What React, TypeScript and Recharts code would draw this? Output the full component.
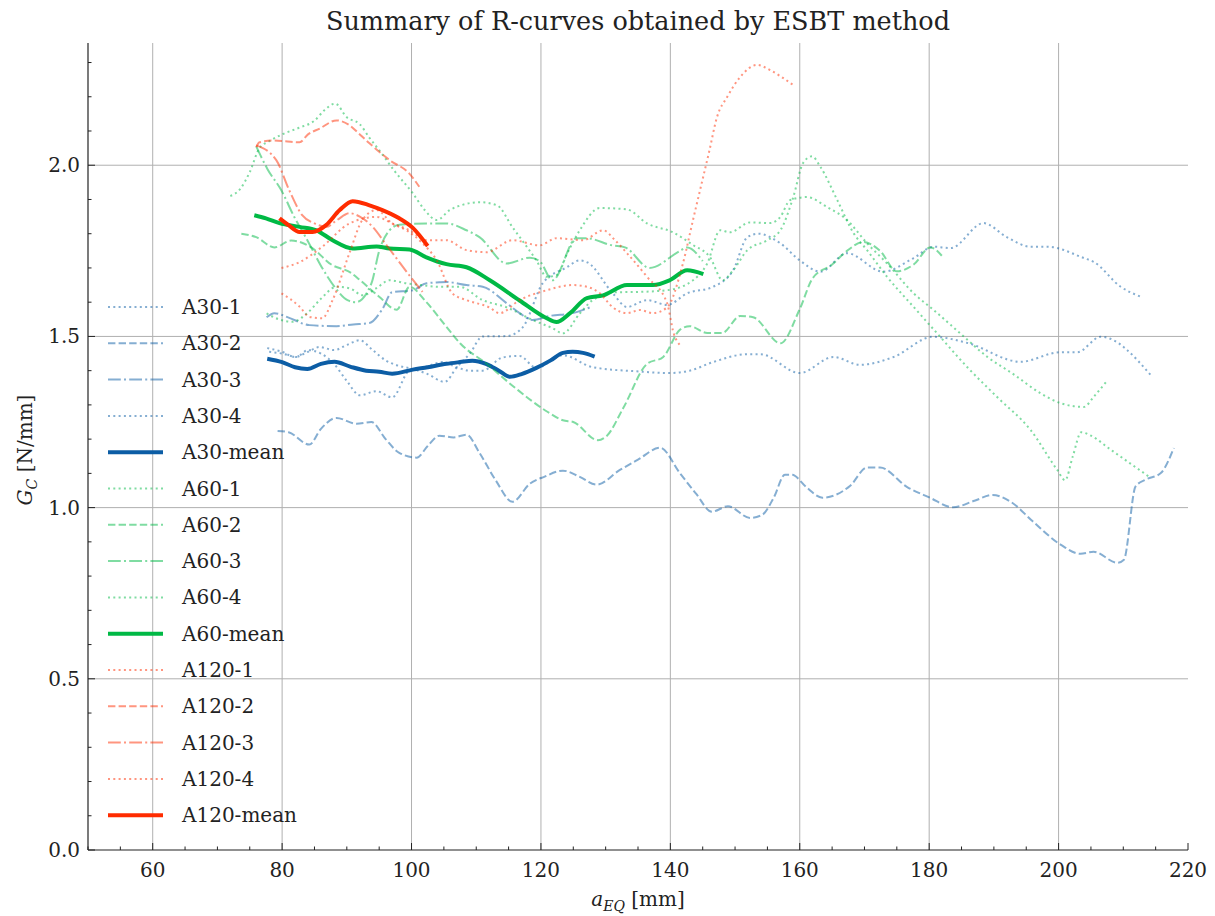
import React from 'react';
import { LineChart, Line, XAxis, YAxis, ReferenceLine, Legend } from 'recharts';

type Pt = [number, number];

// ---- data (x = a_EQ [mm], y = G_C [N/mm]) ----
const A30_1: Pt[] = [[77.7,1.466],[80,1.455],[82,1.44],[84,1.455],[85.8,1.469],[88,1.46],[90,1.475],[92,1.489],[94,1.46],[96,1.43],[97.7,1.416],[100.2,1.405],[102.5,1.39],[105.1,1.367],[107,1.41],[109,1.45],[111,1.5],[114.7,1.501],[117.2,1.527],[120.3,1.656],[124,1.702],[126,1.722],[127.2,1.716],[131.1,1.626],[133.3,1.586],[136.4,1.606],[139.5,1.592],[142.6,1.626],[146.6,1.645],[149.7,1.693],[151.9,1.79],[153.6,1.8],[157,1.772],[160,1.722],[163.2,1.689],[167.3,1.743],[172.9,1.689],[177.6,1.729],[180.7,1.762],[183.3,1.758],[188.4,1.831],[192,1.79],[195.7,1.762],[198.3,1.762],[203.9,1.729],[205.4,1.718],[209.6,1.645],[212.7,1.616]];
const A30_2: Pt[] = [[79.3,1.224],[81,1.22],[84.2,1.184],[86,1.23],[88.4,1.262],[91.5,1.245],[93.8,1.25],[96,1.2],[98.1,1.16],[100.8,1.146],[102.5,1.18],[104.3,1.21],[106.5,1.205],[108.5,1.213],[110.5,1.16],[113,1.08],[115.6,1.017],[118.3,1.07],[120.5,1.09],[123.4,1.108],[126,1.09],[128.6,1.067],[132.2,1.11],[135,1.14],[138.4,1.175],[141.5,1.1],[144,1.04],[146.4,0.988],[148.9,1.004],[152.3,0.97],[154.2,0.979],[156,1.03],[157.7,1.096],[158.8,1.096],[161,1.06],[163.5,1.029],[167.8,1.064],[170.4,1.117],[172.4,1.117],[176.6,1.06],[180,1.03],[183.7,1.001],[187,1.02],[189.8,1.037],[192.6,1.017],[196,0.96],[200.3,0.892],[203.4,0.865],[205.4,0.871],[209.1,0.839],[210.1,0.848],[211.9,1.062],[213.5,1.082],[215.8,1.101],[217.8,1.174]];
const A30_3: Pt[] = [[77.6,1.556],[78.8,1.568],[81,1.555],[84.2,1.533],[88.4,1.53],[91,1.535],[93.5,1.539],[95.5,1.58],[97,1.629],[100.2,1.635],[102.3,1.655],[104.3,1.658],[105.4,1.659],[108.5,1.65],[111,1.645],[114.7,1.597],[116.7,1.568],[118.7,1.548],[121.4,1.56],[124.9,1.568],[127.6,1.585]];
const A30_4: Pt[] = [[78,1.455],[80,1.45],[82.2,1.44],[84,1.46],[86,1.45],[88,1.42],[90,1.37],[92,1.328],[94.6,1.34],[97,1.322],[99.7,1.401],[102,1.41],[104.8,1.425],[107,1.41],[109,1.4],[111,1.4],[114.1,1.439],[116.7,1.443],[119.3,1.408],[123.4,1.445],[128,1.41],[134.8,1.398],[139.9,1.393],[143,1.4],[146.6,1.425],[151.9,1.448],[153.9,1.448],[160,1.393],[165.2,1.44],[169.3,1.417],[174.5,1.44],[180.6,1.499],[185.9,1.481],[194.1,1.426],[200.3,1.454],[202.9,1.454],[206.5,1.499],[214.2,1.388]];
const A30_MEAN: Pt[] = [[77.7,1.435],[80,1.425],[82,1.41],[83.9,1.405],[86,1.42],[88.1,1.426],[90.5,1.412],[93,1.4],[95,1.397],[97,1.391],[100.2,1.403],[102.5,1.41],[105.4,1.42],[107.5,1.425],[109.4,1.429],[111.5,1.42],[113.5,1.4],[115.2,1.382],[117,1.39],[119.3,1.408],[121.5,1.43],[123.4,1.452],[124.9,1.455],[126.5,1.452],[128.3,1.441]];

const A60_1: Pt[] = [[72,1.91],[73.5,1.93],[75,1.98],[76.5,2.05],[78,2.07],[80,2.09],[82.7,2.11],[85,2.13],[86.5,2.16],[88.2,2.18],[90,2.14],[92,2.12],[93.5,2.08],[95,2.044],[97.5,1.98],[100.2,1.918],[102,1.87],[103.9,1.84],[105.9,1.869],[108,1.885],[110.5,1.892],[113.2,1.883],[115.6,1.819],[117.5,1.77],[119.3,1.722],[120.9,1.674],[122.5,1.68],[124,1.74],[126,1.81],[129.1,1.875],[133.3,1.871],[136.4,1.83],[140.4,1.804],[143.5,1.767],[146.1,1.732],[148.1,1.664],[149.7,1.693],[151.9,1.752],[155,1.781],[157,1.81],[159,1.907],[160.5,2.006],[161.9,2.026],[163.2,1.995],[165.8,1.898],[168.3,1.802],[170.4,1.752],[173.5,1.674],[177.6,1.586],[181.7,1.499],[185.9,1.41],[190.5,1.323],[195.7,1.226],[199.8,1.11],[201,1.08],[202.2,1.15],[203.5,1.22],[205,1.21],[208,1.17],[211,1.13],[214,1.09]];
const A60_2: Pt[] = [[73.7,1.8],[76,1.79],[78.8,1.76],[81.4,1.78],[84.5,1.76],[87.6,1.71],[90.7,1.685],[92,1.665],[95,1.616],[97.7,1.578],[99.7,1.645],[102.3,1.6],[105.4,1.528],[107.5,1.48],[111.6,1.42],[116,1.35],[121,1.28],[123.4,1.255],[125,1.25],[128.8,1.197],[130.2,1.21],[132.7,1.29],[136.4,1.42],[138.9,1.44],[141.5,1.52],[143,1.53],[145.7,1.51],[148,1.51],[150.8,1.56],[152.8,1.556],[157,1.48],[160,1.58],[162,1.67],[165,1.71],[167.3,1.75],[169.8,1.776],[172.4,1.75],[175,1.69],[177.6,1.71],[180.2,1.76],[182.2,1.73]];
const A60_3: Pt[] = [[76,2.055],[77.7,1.99],[79.9,1.926],[81.9,1.848],[83.9,1.781],[86.1,1.703],[88.1,1.645],[90.1,1.606],[91.4,1.6],[93.8,1.655],[95,1.75],[96.6,1.81],[98.1,1.826],[102.3,1.83],[105.4,1.83],[108.5,1.81],[110.5,1.79],[114.7,1.713],[118.3,1.73],[119.8,1.72],[121.8,1.664],[125.5,1.787],[127,1.787],[131,1.766],[133,1.76],[136.8,1.7],[141.5,1.75],[142.6,1.76],[145,1.72]];
const A60_4: Pt[] = [[77.6,1.567],[79.5,1.55],[81.6,1.543],[84,1.57],[86,1.61],[88.4,1.645],[90.5,1.64],[92.5,1.62],[94.5,1.64],[96.6,1.664],[99.2,1.655],[101.5,1.65],[104.3,1.645],[107.4,1.645],[111,1.606],[114.7,1.585],[118.7,1.548],[121.8,1.524],[123.4,1.509],[126,1.567],[128,1.606],[131.7,1.629],[135,1.63],[139.5,1.635],[143.5,1.664],[145.7,1.713],[147.7,1.81],[149.2,1.804],[152.3,1.833],[155.4,1.831],[157,1.849],[158.5,1.898],[161.1,1.907],[164.2,1.878],[167.3,1.84],[170.4,1.772],[173.5,1.713],[177.6,1.626],[180.7,1.577],[184.8,1.509],[189,1.44],[193,1.39],[197.2,1.334],[200.3,1.305],[203.9,1.294],[205.4,1.323],[207.3,1.366]];
const A60_MEAN: Pt[] = [[75.7,1.854],[77.5,1.845],[79.6,1.831],[82.7,1.82],[85.3,1.81],[87.8,1.781],[90.9,1.757],[94.6,1.763],[96.6,1.757],[99.7,1.754],[102.3,1.731],[105.4,1.711],[108.5,1.702],[112.1,1.664],[116.7,1.605],[120.9,1.553],[122.4,1.542],[124.5,1.568],[127.1,1.612],[129.6,1.62],[133.3,1.65],[137.3,1.65],[139.9,1.664],[142.6,1.693],[145.1,1.682]];

const A120_1: Pt[] = [[79.9,1.7],[82.7,1.717],[86.2,1.762],[90.4,1.83],[94.6,1.849],[97,1.83],[99.7,1.81],[102.3,1.781],[105.4,1.781],[108.5,1.752],[111.6,1.746],[115.6,1.781],[119.8,1.766],[122.4,1.787],[126.5,1.781],[129.6,1.81],[131.5,1.78],[133.3,1.743],[136.4,1.674],[139.5,1.597],[140.5,1.51],[141.5,1.474]];
const A120_2: Pt[] = [[76,2.053],[76.5,2.067],[78.5,2.072],[80.5,2.07],[82.7,2.067],[84,2.09],[85.8,2.107],[88.4,2.131],[90.4,2.117],[92,2.09],[93.5,2.064],[96.6,2.015],[99.7,1.975],[101.2,1.937]];
const A120_3: Pt[] = [[76,2.058],[79.1,2.015],[81.1,1.927],[83.1,1.854],[85,1.83],[86.8,1.82],[88.5,1.84],[90.4,1.86],[92,1.85],[94,1.82],[96,1.77],[98,1.72],[100,1.67],[101.7,1.63]];
const A120_4: Pt[] = [[79.9,1.626],[82.7,1.587],[84.2,1.557],[86.2,1.553],[87.8,1.606],[90.4,1.743],[92.4,1.84],[94.6,1.869],[97,1.83],[99.2,1.81],[101.7,1.772],[103.9,1.722],[106.3,1.626],[108.5,1.606],[112,1.585],[113.6,1.568],[116.7,1.606],[120.9,1.635],[124.9,1.65],[127.1,1.645],[129.1,1.626],[131.1,1.585],[133.3,1.568],[135.3,1.577],[137.3,1.568],[139.5,1.585],[141.9,1.71],[143.5,1.84],[145,1.96],[146,2.04],[147.2,2.14],[148.8,2.2],[150.8,2.258],[153.4,2.293],[155.4,2.278],[157,2.26],[159,2.234]];
const A120_MEAN: Pt[] = [[79.6,1.845],[81,1.825],[82.7,1.805],[84.7,1.805],[86.8,1.825],[88.9,1.869],[90.9,1.895],[93.5,1.883],[95.5,1.869],[98.1,1.845],[100.2,1.817],[102.5,1.764]];

const X_MAJOR = [60, 80, 100, 120, 140, 160, 180, 200, 220];
const X_TICKS = [50, 55, 60, 65, 70, 75, 80, 85, 90, 95, 100, 105, 110, 115, 120, 125, 130, 135, 140, 145, 150, 155, 160, 165, 170, 175, 180, 185, 190, 195, 200, 205, 210, 215, 220];
const Y_MAJOR = [0, 0.5, 1, 1.5, 2];
const Y_LABELS = ['0.0', '0.5', '1.0', '1.5', '2.0'];
const Y_TICKS = [0, 0.1, 0.2, 0.3, 0.4, 0.5, 0.6, 0.7, 0.8, 0.9, 1, 1.1, 1.2, 1.3, 1.4, 1.5, 1.6, 1.7, 1.8, 1.9, 2, 2.1, 2.2, 2.3];
const X_DOMAIN: [number, number] = [50, 220];
const Y_DOMAIN: [number, number] = [0, 2.357];

const BLUE = '#0C5DA5';
const GREEN = '#00B945';
const RED = '#FF2C00';
const FONT = '"DejaVu Serif", serif';
const INK = '#222';

const DOT = '2 3.3';
const DASH = '7.4 3.2';
const DASHDOT = '12.8 3.2 2 3.2';

type S = { name: string; pts: Pt[]; color: string; dash?: string; width: number; opacity: number };
const SERIES: S[] = [
  { name: 'A30-1', pts: A30_1, color: BLUE, dash: DOT, width: 2, opacity: 0.5 },
  { name: 'A30-2', pts: A30_2, color: BLUE, dash: DASH, width: 2, opacity: 0.5 },
  { name: 'A30-3', pts: A30_3, color: BLUE, dash: DASHDOT, width: 2, opacity: 0.5 },
  { name: 'A30-4', pts: A30_4, color: BLUE, dash: DOT, width: 2, opacity: 0.5 },
  { name: 'A30-mean', pts: A30_MEAN, color: BLUE, width: 4, opacity: 1 },
  { name: 'A60-1', pts: A60_1, color: GREEN, dash: DOT, width: 2, opacity: 0.5 },
  { name: 'A60-2', pts: A60_2, color: GREEN, dash: DASH, width: 2, opacity: 0.5 },
  { name: 'A60-3', pts: A60_3, color: GREEN, dash: DASHDOT, width: 2, opacity: 0.5 },
  { name: 'A60-4', pts: A60_4, color: GREEN, dash: DOT, width: 2, opacity: 0.5 },
  { name: 'A60-mean', pts: A60_MEAN, color: GREEN, width: 4, opacity: 1 },
  { name: 'A120-1', pts: A120_1, color: RED, dash: DOT, width: 2, opacity: 0.5 },
  { name: 'A120-2', pts: A120_2, color: RED, dash: DASH, width: 2, opacity: 0.5 },
  { name: 'A120-3', pts: A120_3, color: RED, dash: DASHDOT, width: 2, opacity: 0.5 },
  { name: 'A120-4', pts: A120_4, color: RED, dash: DOT, width: 2, opacity: 0.5 },
  { name: 'A120-mean', pts: A120_MEAN, color: RED, width: 4, opacity: 1 },
];

const W = 1199;
const H = 908;

const isMajorX = (v: number) => X_MAJOR.indexOf(v) >= 0;
const majorYIndex = (v: number) => Y_MAJOR.findIndex((m) => Math.abs(m - v) < 1e-9);

const BottomTick = (p: any) => {
  const { x, y, payload } = p;
  const v = payload.value;
  const major = isMajorX(v);
  return (
    <g>
      <line x1={x} x2={x} y1={y} y2={y - (major ? 7 : 3.5)} stroke={INK} strokeWidth={1} />
      {major && (
        <text x={x} y={y + 27} textAnchor="middle" fontFamily={FONT} fontSize={20} fill={INK}>{v}</text>
      )}
    </g>
  );
};
const TopTick = (p: any) => {
  const { x, y, payload } = p;
  const major = isMajorX(payload.value);
  return <line x1={x} x2={x} y1={y} y2={y + (major ? 7 : 3.5)} stroke={INK} strokeWidth={1} />;
};
const LeftTick = (p: any) => {
  const { x, y, payload } = p;
  const mi = majorYIndex(payload.value);
  return (
    <g>
      <line x1={x} x2={x + (mi >= 0 ? 7 : 3.5)} y1={y} y2={y} stroke={INK} strokeWidth={1} />
      {mi >= 0 && (
        <text x={x - 8} y={y + 7} textAnchor="end" fontFamily={FONT} fontSize={20} fill={INK}>{Y_LABELS[mi]}</text>
      )}
    </g>
  );
};
const RightTick = (p: any) => {
  const { x, y, payload } = p;
  const mi = majorYIndex(payload.value);
  return <line x1={x} x2={x - (mi >= 0 ? 7 : 3.5)} y1={y} y2={y} stroke={INK} strokeWidth={1} />;
};

const ROW = 36.3;
const renderLegend = () => (
  <svg width={260} height={SERIES.length * ROW + 10} style={{ display: 'block' }}>
    {SERIES.map((s, i) => {
      const cy = 18 + i * ROW;
      return (
        <g key={s.name}>
          <line x1={0} x2={55} y1={cy} y2={cy} stroke={s.color} strokeOpacity={s.opacity}
            strokeWidth={s.width} strokeDasharray={s.dash} />
          <text x={74} y={cy + 7} fontFamily={FONT} fontSize={20} fill={INK}>{s.name}</text>
        </g>
      );
    })}
  </svg>
);

export default function App() {
  return (
    <div style={{ position: 'relative', width: W, height: H }}>
      <LineChart width={W} height={900} margin={{ top: 35, right: 19, bottom: 18, left: 20 }}>
        <XAxis dataKey="x" type="number" domain={X_DOMAIN} ticks={X_TICKS} interval={0}
          allowDataOverflow tickLine={false} tickSize={0} tickMargin={0} height={40}
          axisLine={{ stroke: INK, strokeWidth: 1.2 }} tick={BottomTick} />
        <XAxis xAxisId="top" orientation="top" dataKey="x" type="number" domain={X_DOMAIN}
          ticks={X_TICKS} interval={0} allowDataOverflow tickLine={false} tickSize={0}
          tickMargin={0} height={0} axisLine={{ stroke: INK, strokeWidth: 1.2 }} tick={TopTick} />
        <YAxis type="number" domain={Y_DOMAIN} ticks={Y_TICKS} interval={0} allowDataOverflow
          tickLine={false} tickSize={0} tickMargin={0} width={60}
          axisLine={{ stroke: INK, strokeWidth: 1.2 }} tick={LeftTick} />
        <YAxis yAxisId="right" orientation="right" type="number" domain={Y_DOMAIN} ticks={Y_TICKS}
          interval={0} allowDataOverflow tickLine={false} tickSize={0} tickMargin={0} width={0}
          axisLine={{ stroke: INK, strokeWidth: 1.2 }} tick={RightTick} />
        {X_MAJOR.filter((v) => v < 220).map((v) => (
          <ReferenceLine key={'gx' + v} x={v} stroke="#b0b0b0" strokeWidth={1} />
        ))}
        {Y_MAJOR.filter((v) => v > 0).map((v) => (
          <ReferenceLine key={'gy' + v} y={v} stroke="#b0b0b0" strokeWidth={1} />
        ))}
        {SERIES.map((s) => (
          <Line key={s.name} name={s.name} data={s.pts.map(([x, y]) => ({ x, y }))} dataKey="y"
            type="monotone" dot={false} activeDot={false} isAnimationActive={false}
            stroke={s.color} strokeOpacity={s.opacity} strokeWidth={s.width}
            strokeDasharray={s.dash} strokeLinecap="butt" />
        ))}
        <Legend layout="vertical" align="center" verticalAlign="middle" content={renderLegend}
          wrapperStyle={{ position: 'absolute', left: 100, top: 281, width: 260, height: 560 }} />
      </LineChart>
      <svg width={W} height={H + 8} style={{ position: 'absolute', left: 0, top: -8, pointerEvents: 'none', overflow: 'visible' }}>
        <text x={630} y={30} textAnchor="middle" fontFamily={FONT} fontSize={25.5} fill={INK}>
          Summary of R-curves obtained by ESBT method
        </text>
        <text x={630} y={906} textAnchor="middle" fontFamily={FONT} fontSize={20} fill={INK}>
          <tspan fontStyle="italic">a</tspan>
          <tspan fontStyle="italic" fontSize={14} dy={5}>EQ</tspan>
          <tspan dy={-5}> [mm]</tspan>
        </text>
        <text transform="translate(24,450) rotate(-90)" textAnchor="middle" fontFamily={FONT} fontSize={20} fill={INK}>
          <tspan fontStyle="italic">G</tspan>
          <tspan fontStyle="italic" fontSize={14} dy={5}>C</tspan>
          <tspan dy={-5}> [N/mm]</tspan>
        </text>
      </svg>
    </div>
  );
}
